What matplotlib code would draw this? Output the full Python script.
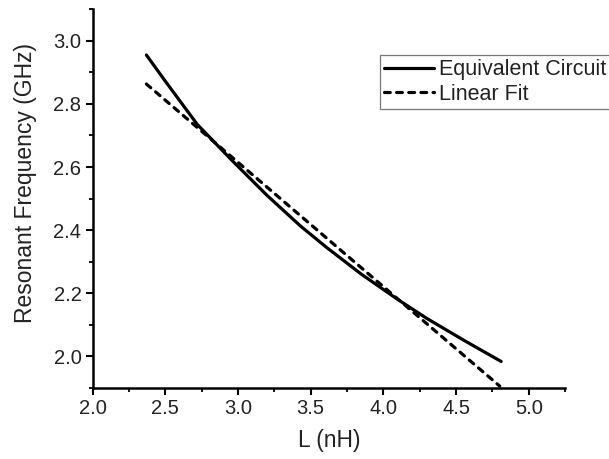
import matplotlib.pyplot as plt
from matplotlib.ticker import MultipleLocator

plt.rcParams['font.family'] = ['Liberation Sans', 'DejaVu Sans']

# equivalent-circuit resonant frequency vs inductance
L_circuit = [2.37, 2.50, 2.72, 2.95, 3.20, 3.43, 3.61, 3.85, 4.10, 4.30, 4.55, 4.81]
f_circuit = [2.955, 2.872, 2.735, 2.625, 2.510, 2.413, 2.345, 2.260, 2.180, 2.120, 2.052, 1.984]

# linear fit end points
L_fit = [2.37, 4.80]
f_fit = [2.863, 1.906]

fig = plt.figure(figsize=(6.09, 4.59), dpi=100)
ax = fig.add_axes([0.152, 0.1547, 0.776, 0.8253])

ax.plot(L_circuit, f_circuit, color='black', lw=2.3, solid_capstyle='round',
        label='Equivalent Circuit')
ax.plot(L_fit, f_fit, color='black', lw=2.3, linestyle=(0, (1.8, 2.0)),
        dash_capstyle='round', label='Linear Fit')

ax.set_xlim(2.0, 5.25)
ax.set_ylim(1.9, 3.1)
ax.xaxis.set_major_locator(MultipleLocator(0.5))
ax.xaxis.set_minor_locator(MultipleLocator(0.25))
ax.yaxis.set_major_locator(MultipleLocator(0.2))
ax.yaxis.set_minor_locator(MultipleLocator(0.1))

for side in ['top', 'right']:
    ax.spines[side].set_visible(False)
for side in ['left', 'bottom']:
    ax.spines[side].set_linewidth(1.8)

ax.tick_params(which='major', direction='out', length=5, width=1.5,
               labelsize=14.5, pad=3, labelcolor='#222222')
ax.tick_params(which='minor', direction='out', length=3, width=1.3)

ax.set_xlabel('L (nH)', fontsize=16.5, labelpad=8, color='#222222')
ax.set_ylabel('Resonant Frequency (GHz)', fontsize=16.5, color='#222222')
ax.yaxis.set_label_coords(-0.117, 0.54)

leg = ax.legend(loc='upper left', bbox_to_anchor=(380 / 609, 1 - 55 / 459),
                bbox_transform=fig.transFigure, fontsize=15.5, frameon=True,
                fancybox=False, handlelength=2.3, handletextpad=0.23,
                borderpad=0.2, labelspacing=0.15, borderaxespad=0)
leg.get_frame().set_edgecolor('#555555')
leg.get_frame().set_linewidth(0.9)
for t in leg.get_texts():
    t.set_color('#222222')

fig.savefig('out.png', dpi=100)
